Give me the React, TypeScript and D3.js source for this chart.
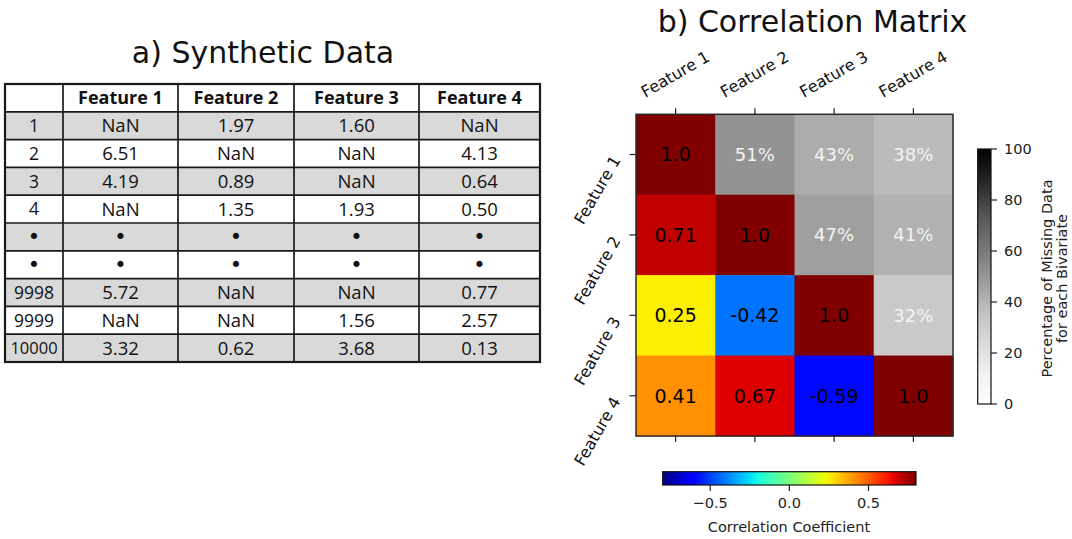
import React from "react";
import * as d3 from "d3";

// ---------- data ----------
const features = ["Feature 1", "Feature 2", "Feature 3", "Feature 4"];
const rowIds = ["1", "2", "3", "4", "•", "•", "9998", "9999", "10000"];
const tableRows = [
  ["NaN", "1.97", "1.60", "NaN"],
  ["6.51", "NaN", "NaN", "4.13"],
  ["4.19", "0.89", "NaN", "0.64"],
  ["NaN", "1.35", "1.93", "0.50"],
  ["•", "•", "•", "•"],
  ["•", "•", "•", "•"],
  ["5.72", "NaN", "NaN", "0.77"],
  ["NaN", "NaN", "1.56", "2.57"],
  ["3.32", "0.62", "3.68", "0.13"],
];
// lower triangle + diagonal: correlation coefficients
const corrMatrix: (number | null)[][] = [
  [1.0, null, null, null],
  [0.71, 1.0, null, null],
  [0.25, -0.42, 1.0, null],
  [0.41, 0.67, -0.59, 1.0],
];
// upper triangle: percentage missing for each bivariate
const missingPct: (number | null)[][] = [
  [null, 51, 43, 38],
  [null, null, 47, 41],
  [null, null, null, 32],
  [null, null, null, null],
];
const corrTicks = [-0.5, 0.0, 0.5];
const corrTickLabels = ["−0.5", "0.0", "0.5"];
const pctTicks = [0, 20, 40, 60, 80, 100];

// ---------- colour maps ----------
const jetR = d3.scaleLinear().domain([0, 0.35, 0.66, 0.89, 1]).range([0, 0, 1, 1, 0.5]).clamp(true);
const jetG = d3.scaleLinear().domain([0, 0.125, 0.375, 0.64, 0.91, 1]).range([0, 0, 1, 1, 0, 0]).clamp(true);
const jetB = d3.scaleLinear().domain([0, 0.11, 0.34, 0.65, 1]).range([0.5, 1, 1, 0, 0]).clamp(true);
const jet = (t: number) => d3.rgb(jetR(t) * 255, jetG(t) * 255, jetB(t) * 255).formatHex();
const corrNorm = d3.scaleLinear().domain([-0.8, 0.8]).range([0, 1]).clamp(true);
const greys = d3
  .scaleLinear<string>()
  .domain([0, 12.5, 25, 37.5, 50, 62.5, 75, 87.5, 100])
  .range(["#ffffff", "#f0f0f0", "#d9d9d9", "#bdbdbd", "#969696", "#737373", "#525252", "#252525", "#000000"])
  .clamp(true);

// ---------- layout ----------
const W = 1072;
const H = 539;
const colEdges = [5, 63, 178, 294, 419, 540];
const tableTop = 84;
const tableBottom = 362;
const rowBand = d3.scaleBand<number>().domain(d3.range(rowIds.length + 1)).range([tableTop, tableBottom]);

const hmX = d3.scaleBand<number>().domain(d3.range(4)).range([636, 953]);
const hmY = d3.scaleBand<number>().domain(d3.range(4)).range([114.3, 436]);

const cbJetX = d3.scaleLinear().domain([-0.8, 0.8]).range([662.7, 916]);
const cbJetTop = 471.7;
const cbJetBottom = 485;

const cbGreyY = d3.scaleLinear().domain([0, 100]).range([404, 149]);
const cbGreyLeft = 977.7;
const cbGreyRight = 991;

const DV = "'DejaVu Sans', Verdana, sans-serif";
const TB = "'Open Sans', 'Liberation Sans', sans-serif";

function cellText(v: string, x: number, y: number, size: number, key: string | number) {
  const isDot = v === "•";
  return (
    <text
      key={key}
      x={x}
      y={y}
      dy={isDot ? "0.34em" : "0.36em"}
      textAnchor="middle"
      fontFamily={isDot ? DV : TB}
      fontSize={isDot ? 21 : size}
      fill="#111"
    >
      {v}
    </text>
  );
}

export default function App() {
  const rowH = rowBand.bandwidth();
  const jetStops = d3.range(0, 1.0001, 1 / 64);
  const greyStops = d3.range(0, 100.001, 12.5);

  return (
    <svg
      width={W}
      height={H}
      viewBox={`0 0 ${W} ${H}`}
      style={{ position: "absolute", left: 0, top: 0, display: "block", background: "#fff" }}
    >
      <defs>
        <linearGradient id="jetGrad" x1="0" x2="1" y1="0" y2="0">
          {jetStops.map((t, i) => (
            <stop key={i} offset={t} stopColor={jet(t)} />
          ))}
        </linearGradient>
        <linearGradient id="greyGrad" x1="0" x2="0" y1="1" y2="0">
          {greyStops.map((v, i) => (
            <stop key={i} offset={v / 100} stopColor={greys(v)} />
          ))}
        </linearGradient>
      </defs>
      <rect x={0} y={0} width={W} height={H} fill="#fff" />

      {/* ---------- a) table ---------- */}
      <text x={263} y={62.5} textAnchor="middle" fontFamily={DV} fontSize={30} fill="#111">
        a) Synthetic Data
      </text>

      {rowIds.map((id, i) => (
        <rect
          key={"rf" + i}
          x={colEdges[0]}
          y={rowBand(i + 1)}
          width={colEdges[colEdges.length - 1] - colEdges[0]}
          height={rowH}
          fill={i % 2 === 0 ? "#d9d9d9" : "#ffffff"}
        />
      ))}
      {features.map((f, j) => (
        <text
          key={"h" + j}
          x={(colEdges[j + 1] + colEdges[j + 2]) / 2}
          y={(rowBand(0) as number) + rowH / 2}
          dy="0.36em"
          textAnchor="middle"
          fontFamily={TB}
          fontWeight={700}
          fontSize={18}
          fill="#111"
        >
          {f}
        </text>
      ))}
      {rowIds.map((id, i) => {
        const cy = (rowBand(i + 1) as number) + rowH / 2;
        return (
          <g key={"r" + i}>
            {cellText(id, (colEdges[0] + colEdges[1]) / 2, cy, id.length > 4 ? 16.5 : 17.5, "id")}
            {tableRows[i].map((v, j) => cellText(v, (colEdges[j + 1] + colEdges[j + 2]) / 2, cy, 18.5, j))}
          </g>
        );
      })}
      {d3.range(1, rowIds.length + 1).map((i) => (
        <line
          key={"hl" + i}
          x1={colEdges[0]}
          x2={colEdges[colEdges.length - 1]}
          y1={rowBand(i)}
          y2={rowBand(i)}
          stroke="#1a1a1a"
          strokeWidth={1.7}
        />
      ))}
      {colEdges.slice(1, -1).map((x, i) => (
        <line key={"vl" + i} x1={x} x2={x} y1={tableTop} y2={tableBottom} stroke="#1a1a1a" strokeWidth={1.7} />
      ))}
      <rect
        x={colEdges[0]}
        y={tableTop}
        width={colEdges[colEdges.length - 1] - colEdges[0]}
        height={tableBottom - tableTop}
        fill="none"
        stroke="#1a1a1a"
        strokeWidth={2.2}
      />

      {/* ---------- b) correlation matrix ---------- */}
      <text x={812.5} y={32} textAnchor="middle" fontFamily={DV} fontSize={30} fill="#111">
        b) Correlation Matrix
      </text>

      {corrMatrix.map((row, i) =>
        row.map((c, j) => {
          const p = missingPct[i][j];
          const fill = c !== null ? jet(corrNorm(c)) : greys(p as number);
          return (
            <rect
              key={`c${i}-${j}`}
              x={hmX(j)}
              y={hmY(i)}
              width={hmX.bandwidth() + 0.5}
              height={hmY.bandwidth() + 0.5}
              fill={fill}
            />
          );
        })
      )}
      {corrMatrix.map((row, i) =>
        row.map((c, j) => {
          const p = missingPct[i][j];
          const label = c !== null ? (c === 1 ? "1.0" : c.toFixed(2)) : `${p}%`;
          return (
            <text
              key={`t${i}-${j}`}
              x={(hmX(j) as number) + hmX.bandwidth() / 2}
              y={(hmY(i) as number) + hmY.bandwidth() / 2}
              dy="0.36em"
              textAnchor="middle"
              fontFamily={DV}
              fontSize={c !== null ? 19 : 18}
              fill={c !== null ? "#000" : "#f4f4f4"}
            >
              {label}
            </text>
          );
        })
      )}
      <rect
        x={hmX.range()[0]}
        y={hmY.range()[0]}
        width={hmX.range()[1] - hmX.range()[0]}
        height={hmY.range()[1] - hmY.range()[0]}
        fill="none"
        stroke="#2a2a2a"
        strokeWidth={1.5}
      />
      {features.map((f, j) => {
        const cx = (hmX(j) as number) + hmX.bandwidth() / 2;
        return (
          <g key={"xt" + j}>
            <line x1={cx} x2={cx} y1={hmY.range()[0]} y2={hmY.range()[0] - 6} stroke="#222" strokeWidth={1.2} />
            <line x1={cx} x2={cx} y1={hmY.range()[1]} y2={hmY.range()[1] + 6} stroke="#222" strokeWidth={1.2} />
            <text
              transform={`translate(${cx + 2.5},${79}) rotate(-30)`}
              textAnchor="middle"
              fontFamily={DV}
              fontSize={16}
              fill="#111"
            >
              {f}
            </text>
          </g>
        );
      })}
      {features.map((f, i) => {
        const cy = (hmY(i) as number) + hmY.bandwidth() / 2;
        return (
          <g key={"yt" + i}>
            <line x1={hmX.range()[0]} x2={hmX.range()[0] - 6.5} y1={cy} y2={cy} stroke="#222" strokeWidth={1.2} />
            <text
              transform={`translate(${621},${cy + 5.5}) rotate(-60)`}
              textAnchor="end"
              fontFamily={DV}
              fontSize={16}
              fill="#111"
            >
              {f}
            </text>
          </g>
        );
      })}

      {/* ---------- jet colourbar ---------- */}
      <rect
        x={cbJetX.range()[0]}
        y={cbJetTop}
        width={cbJetX.range()[1] - cbJetX.range()[0]}
        height={cbJetBottom - cbJetTop}
        fill="url(#jetGrad)"
        stroke="#111"
        strokeWidth={1.2}
      />
      {corrTicks.map((t, i) => (
        <g key={"cj" + i}>
          <line x1={cbJetX(t)} x2={cbJetX(t)} y1={cbJetBottom} y2={cbJetBottom + 6} stroke="#222" strokeWidth={1.2} />
          <text x={cbJetX(t)} y={508} textAnchor="middle" fontFamily={DV} fontSize={14.5} fill="#222">
            {corrTickLabels[i]}
          </text>
        </g>
      ))}
      <text x={789} y={531.5} textAnchor="middle" fontFamily={DV} fontSize={14.5} fill="#222">
        Correlation Coefficient
      </text>

      {/* ---------- grey colourbar ---------- */}
      <rect
        x={cbGreyLeft}
        y={cbGreyY(100)}
        width={cbGreyRight - cbGreyLeft}
        height={cbGreyY(0) - cbGreyY(100)}
        fill="url(#greyGrad)"
        stroke="#111"
        strokeWidth={1.2}
      />
      {pctTicks.map((t, i) => (
        <g key={"cg" + i}>
          <line x1={cbGreyRight} x2={cbGreyRight + 6} y1={cbGreyY(t)} y2={cbGreyY(t)} stroke="#222" strokeWidth={1.2} />
          <text x={1004} y={cbGreyY(t)} dy="0.36em" textAnchor="start" fontFamily={DV} fontSize={14.5} fill="#222">
            {t}
          </text>
        </g>
      ))}
      <text
        transform={`translate(1051.5,${(cbGreyY(0) + cbGreyY(100)) / 2 + 2}) rotate(-90)`}
        textAnchor="middle"
        fontFamily={DV}
        fontSize={14.5}
        fill="#222"
      >
        Percentage of Missing Data
      </text>
      <text
        transform={`translate(1066.5,${(cbGreyY(0) + cbGreyY(100)) / 2 + 2}) rotate(-90)`}
        textAnchor="middle"
        fontFamily={DV}
        fontSize={14.5}
        fill="#222"
      >
        for each Bivariate
      </text>
    </svg>
  );
}
